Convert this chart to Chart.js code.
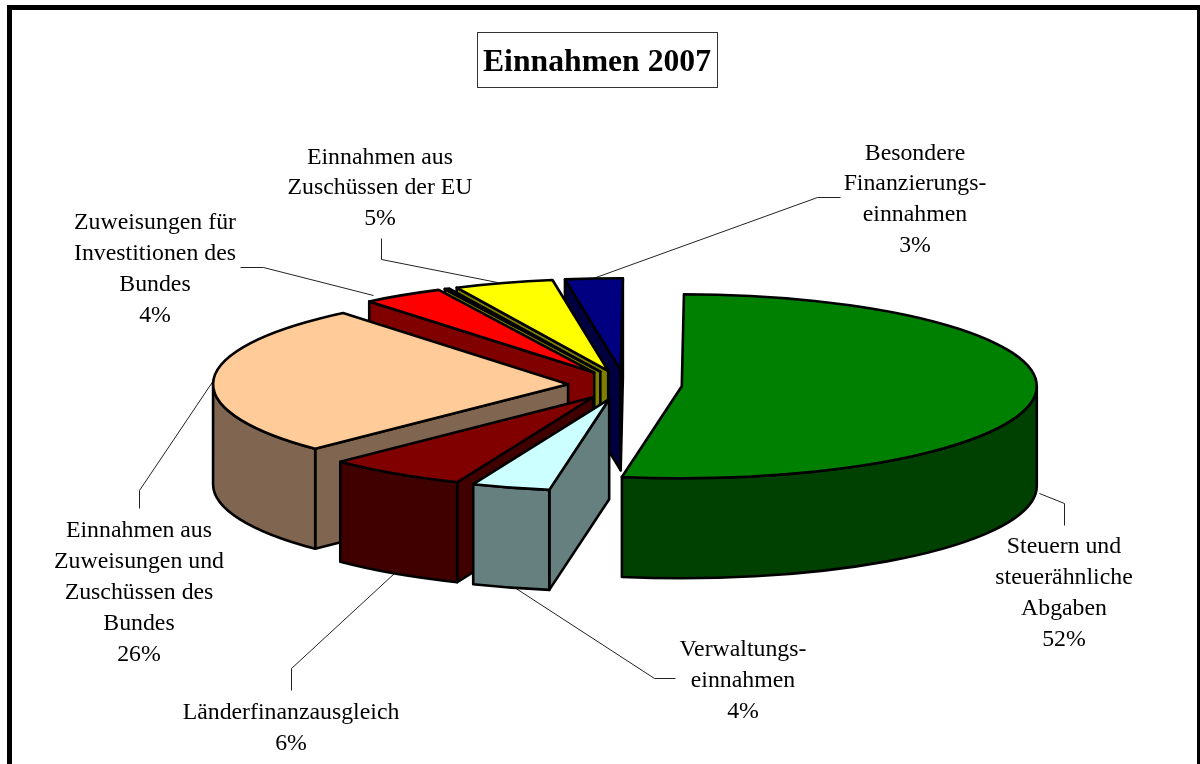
<!DOCTYPE html>
<html lang="de"><head><meta charset="utf-8">
<style>html,body{margin:0;padding:0;background:#fff}canvas{display:block}</style>
<script src="https://cdn.jsdelivr.net/npm/chart.js@4/dist/chart.umd.js"></script>
</head><body>
<canvas id="c" width="1200" height="764"></canvas>
<script>
const chartTitle = 'Einnahmen 2007';
const categories = ['Steuern und steuerähnliche Abgaben','Verwaltungseinnahmen','Länderfinanzausgleich','Einnahmen aus Zuweisungen und Zuschüssen des Bundes','Zuweisungen für Investitionen des Bundes','Sonstige','Einnahmen aus Zuschüssen der EU','Besondere Finanzierungseinnahmen'];
const values = [52.49, 3.55, 6.35, 26.4, 3.7, 0.2, 4.5, 2.6];
const topColors = ['#008000','#CCFFFF','#800000','#FFCC99','#FF0000','#808000','#FFFF00','#000080'];
const wallColors = ['#004000','#668080','#400000','#806650','#800000','#808000','#808000','#000040'];
const labelLines = [
  ['Steuern und','steuerähnliche','Abgaben'],
  ['Verwaltungs-','einnahmen'],
  ['Länderfinanzausgleich'],
  ['Einnahmen aus','Zuweisungen und','Zuschüssen des','Bundes'],
  ['Zuweisungen für','Investitionen des','Bundes'],
  [],
  ['Einnahmen aus','Zuschüssen der EU'],
  ['Besondere','Finanzierungs-','einnahmen']
];
// label layout: centre x, first baseline, leader polyline
const labelLayout = [
  {x:1064,y:553,line:[[1039,493],[1064,503],[1064,525]]},
  {x:743,y:656,line:[[514,587],[654,678],[675,678]]},
  {x:291,y:719,line:[[394,573],[291,668],[291,690]]},
  {x:139,y:537,line:[[213,380],[139,490],[139,508]]},
  {x:155,y:229,line:[[240,267],[263,267],[373,295]]},
  null,
  {x:380,y:163.5,line:[[381,238],[381,259],[497,282]]},
  {x:915,y:159.5,line:[[840,197],[817,197],[590,279]]}
];
const SQUASH = 92/355, DEPTH = 100, EXPLODE = 57, LINE_H = 30.9;

const pie3d = {
  id:'pie3d',
  beforeDatasetDraw(){ return false; },
  afterDatasetsDraw(chart){
    const ctx = chart.ctx, meta = chart.getDatasetMeta(0);
    const ds = chart.data.datasets[0];
    // leader lines sit under the pie
    ctx.save();
    ctx.strokeStyle = '#222'; ctx.lineWidth = 1;
    labelLayout.forEach(l=>{ if(!l) return;
      ctx.beginPath(); l.line.forEach((p,i)=> i?ctx.lineTo(p[0]+.5,p[1]+.5):ctx.moveTo(p[0]+.5,p[1]+.5)); ctx.stroke();
    });
    ctx.restore();

    const slices = meta.data.map((el,i)=>{
      const p = el.getProps(['x','y','startAngle','endAngle','outerRadius'],true);
      const mid = (p.startAngle+p.endAngle)/2;
      return {i, a:p.startAngle, b:p.endAngle, r:p.outerRadius,
        cx:p.x+Math.cos(mid)*EXPLODE, cy:p.y+Math.sin(mid)*EXPLODE*SQUASH, order:Math.sin(mid)};
    }).sort((s,t)=>s.order-t.order);

    ctx.save();
    ctx.lineWidth = 2.6; ctx.strokeStyle = '#000'; ctx.lineJoin = 'round';
    const pt = (s,ang)=>[s.cx+Math.cos(ang)*s.r, s.cy+Math.sin(ang)*s.r*SQUASH];
    const cut = (s,ang,col)=>{
      const o = pt(s,ang);
      ctx.beginPath(); ctx.moveTo(s.cx,s.cy); ctx.lineTo(o[0],o[1]); ctx.lineTo(o[0],o[1]+DEPTH); ctx.lineTo(s.cx,s.cy+DEPTH); ctx.closePath();
      ctx.fillStyle = col; ctx.fill(); ctx.stroke();
    };
    slices.forEach(s=>{
      const wall = wallColors[s.i];
      if (Math.cos(s.a) < 0) cut(s,s.a,wall);
      if (Math.cos(s.b) > 0) cut(s,s.b,wall);
      // outer wall: only the part of the rim on the viewer's side
      for (const k of [0,2]) {
        const lo = Math.max(s.a, k*Math.PI), hi = Math.min(s.b, (k+1)*Math.PI);
        if (hi > lo) {
          ctx.beginPath();
          ctx.ellipse(s.cx,s.cy,s.r,s.r*SQUASH,0,lo,hi,false);
          ctx.ellipse(s.cx,s.cy+DEPTH,s.r,s.r*SQUASH,0,hi,lo,true);
          ctx.closePath();
          ctx.fillStyle = wall; ctx.fill(); ctx.stroke();
        }
      }
      ctx.beginPath();
      ctx.moveTo(s.cx,s.cy);
      ctx.ellipse(s.cx,s.cy,s.r,s.r*SQUASH,0,s.a,s.b,false);
      ctx.closePath();
      ctx.fillStyle = ds.backgroundColor[s.i]; ctx.fill(); ctx.stroke();
    });
    ctx.restore();

    // texts
    ctx.save();
    ctx.fillStyle = '#000'; ctx.textAlign = 'center'; ctx.textBaseline = 'alphabetic';
    ctx.font = '23.8px "Liberation Serif"';
    labelLines.forEach((lines,i)=>{
      const l = labelLayout[i]; if(!l) return;
      const all = lines.concat([Math.round(values[i])+'%']);
      all.forEach((t,j)=>ctx.fillText(t,l.x,l.y+j*LINE_H));
    });
    // title box
    ctx.fillStyle='#fff'; ctx.strokeStyle='#333'; ctx.lineWidth=1;
    ctx.fillRect(477,33,240,55); ctx.strokeRect(477.5,32.5,240,55);
    ctx.fillStyle='#000'; ctx.font='bold 31.7px "Liberation Serif"';
    ctx.fillText(chartTitle,597,71);
    // outer frame
    ctx.fillStyle='#000';
    ctx.fillRect(7,5,1193,5); ctx.fillRect(7,5,5,759); ctx.fillRect(1197,5,3,759);
    ctx.restore();
  }
};

new Chart(document.getElementById('c'),{
  type:'pie',
  data:{labels:categories,datasets:[{data:values,backgroundColor:topColors,borderColor:'#000',borderWidth:0}]},
  options:{
    responsive:false,animation:false,radius:355,rotation:0.35,
    layout:{padding:{left:50,top:6}},
    plugins:{legend:{display:false},tooltip:{enabled:false},title:{display:false}}
  },
  plugins:[pie3d]
});
</script>
</body></html>
